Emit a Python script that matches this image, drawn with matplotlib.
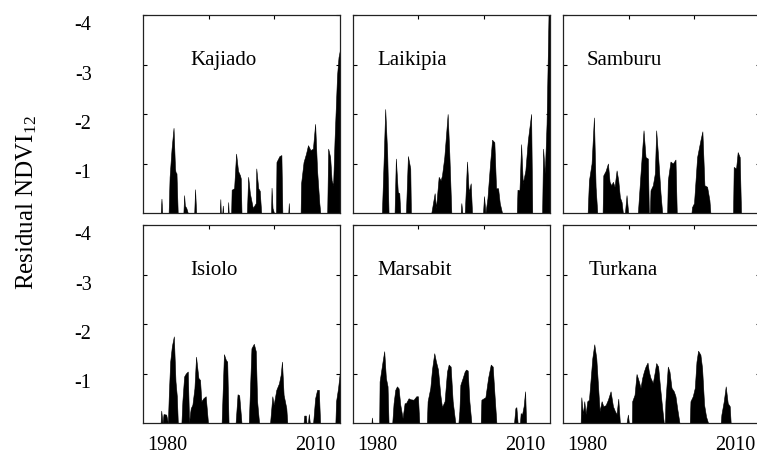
import numpy as np
import matplotlib.pyplot as plt
import matplotlib.transforms as mtransforms

plt.rcParams['font.family'] = 'Liberation Serif'
plt.rcParams['mathtext.fontset'] = 'custom'
plt.rcParams['mathtext.rm'] = 'Liberation Serif'
plt.rcParams['mathtext.it'] = 'Liberation Serif:italic'

names = ["Kajiado", "Laikipia", "Samburu", "Isiolo", "Marsabit", "Turkana"]

# residual NDVI12 (only the negative part)
kajiado_yr = [1978.6, 1978.75, 1978.9, 1980.2, 1980.4, 1980.8, 1981.2, 1981.5, 1981.6, 1981.8, 1982.05,
              1983.2, 1983.35, 1983.5, 1983.8, 1984.1, 1985.4, 1985.57, 1985.8,
              1990.6, 1990.7, 1990.8, 1991.1, 1991.2, 1991.3, 1992.2, 1992.3, 1992.4,
              1992.9, 1993.0, 1993.5, 1993.9, 1994.3, 1994.7, 1994.85, 1995.0,
              1996.1, 1996.35, 1996.7, 1997.3, 1997.9, 1998.0, 1998.4, 1998.7, 1999.0,
              2001.0, 2001.1, 2001.3, 2001.6, 2002.0, 2002.1, 2002.7, 2003.1, 2003.3,
              2004.5, 2004.6, 2004.7, 2007.0, 2007.1, 2007.6, 2008.1, 2008.5, 2009.0, 2009.5,
              2009.95, 2010.35, 2010.8, 2011.0, 2012.4, 2012.6, 2013.0, 2013.3, 2013.6, 2013.9,
              2014.4, 2014.7, 2015.0]
kajiado_val = [0, -0.29, 0, 0, -0.73, -1.3, -1.72, -0.9, -0.83, -0.8, 0,
               0, -0.36, -0.15, -0.1, 0, 0, -0.48, 0,
               0, -0.28, 0, 0, -0.15, 0, 0, -0.22, 0,
               0, -0.47, -0.5, -1.2, -0.85, -0.76, -0.7, 0,
               0, -0.73, -0.4, -0.1, -0.2, -0.9, -0.5, -0.45, 0,
               0, -0.51, -0.1, 0, 0, -1.03, -1.15, -1.17, 0,
               0, -0.2, 0, 0, -0.6, -1.03, -1.2, -1.37, -1.27, -1.3,
               -1.8, -0.86, -0.2, 0, 0, -1.3, -1.13, -0.66, -0.56, -1.5,
               -2.78, -3.15, -3.3]

laikipia_yr = [1980.97, 1981.3, 1981.64, 1982.05, 1982.32, 1983.54, 1983.8, 1984.2, 1984.5, 1984.7,
               1985.85, 1986.25, 1986.73, 1986.86,
               1991.0, 1991.68, 1991.95, 1992.5, 1992.9, 1993.17, 1993.64, 1994.32, 1994.66, 1995.07,
               1996.97, 1997.1, 1997.3, 1997.8, 1998.25, 1998.6, 1999.0, 1999.27,
               2001.5, 2001.7, 2002.0, 2002.4, 2002.9, 2003.34, 2003.8, 2004.15, 2004.56, 2004.9, 2005.37,
               2008.36, 2008.5, 2008.9, 2009.24, 2009.58, 2010.1, 2010.6, 2011.27, 2011.5,
               2013.5, 2013.7, 2014.05, 2014.4, 2014.8, 2015.0]
laikipia_val = [0, -1.0, -2.1, -1.2, 0, 0, -1.1, -0.42, -0.4, 0,
                0, -1.15, -0.9, 0,
                0, -0.4, -0.1, -0.73, -0.66, -0.76, -1.13, -2.0, -1.2, 0,
                0, -0.2, 0, 0, -1.04, -0.42, -0.6, 0,
                0, -0.34, 0, -0.3, -0.96, -1.48, -1.43, -0.5, -0.5, -0.2, 0,
                0, -0.47, -0.46, -1.39, -0.6, -0.86, -1.47, -2.0, 0,
                0, -1.3, -0.8, -1.8, -4.0, -4.0]

samburu_yr = [1980.0, 1980.27, 1980.8, 1981.28, 1981.62, 1981.96,
              1983.04, 1983.18, 1983.65, 1984.12, 1984.46, 1984.8, 1985.14, 1985.47, 1985.88,
              1986.22, 1986.55, 1986.9, 1987.16, 1987.57, 1987.9, 1988.24,
              1990.2, 1990.74, 1991.35, 1991.76, 1992.23, 1992.43,
              1992.64, 1992.77, 1993.24, 1993.65, 1993.92, 1994.32, 1994.8, 1995.14,
              1996.15, 1996.28, 1996.82, 1997.3, 1997.84, 1998.1,
              2001.08, 2001.2, 2001.6, 2002.23, 2002.9, 2003.3, 2003.72, 2004.26, 2004.73, 2004.93,
              2009.53, 2009.66, 2010.14, 2010.47, 2010.88, 2011.15]
samburu_val = [0, -0.66, -1.0, -1.93, -0.53, 0,
               0, -0.76, -0.85, -1.0, -0.63, -0.56, -0.63, -0.53, -0.86,
               -0.66, -0.32, -0.22, 0, 0, -0.36, 0,
               0, -0.8, -1.67, -1.13, -1.1, 0,
               0, -0.46, -0.56, -0.8, -1.67, -1.13, -0.4, 0,
               0, -0.66, -1.04, -1.0, -1.08, 0,
               0, -0.12, -0.2, -1.13, -1.47, -1.65, -0.56, -0.53, -0.26, 0,
               0, -0.93, -0.9, -1.23, -1.13, 0]

isiolo_yr = [1978.57, 1978.7, 1978.97, 1979.17, 1979.71, 1980.05, 1980.25, 1980.52, 1980.86, 1981.26,
             1981.6, 1981.87, 1982.07, 1982.8, 1983.0, 1983.35, 1983.69, 1984.09, 1984.36,
             1984.56, 1984.7, 1985.03, 1985.44, 1985.77, 1986.25, 1986.58, 1986.85, 1987.26, 1987.73, 1988.2,
             1990.96, 1991.43, 1991.84, 1992.1, 1992.37, 1993.8, 1994.2, 1994.53, 1995.0,
             1996.48, 1997.02, 1997.5, 1997.9, 1998.17, 1998.57,
             2000.8, 2001.26, 2001.53, 2002.07, 2002.6, 2002.95, 2003.22, 2003.55, 2004.1, 2004.3,
             2007.6, 2007.73, 2008.06, 2008.2, 2008.5, 2008.67, 2008.87,
             2009.54, 2009.95, 2010.35, 2010.7, 2010.96, 2014.06, 2014.2, 2014.6, 2014.93, 2015.0]
isiolo_val = [0, -0.25, 0, -0.18, -0.17, 0, -0.6, -1.24, -1.55, -1.75,
              -0.84, -0.54, 0, 0, -0.45, -0.94, -1.0, -1.04, 0,
              -0.2, -0.3, -0.37, -0.7, -1.34, -0.91, -0.87, -0.44, -0.5, -0.54, 0,
              0, -1.39, -1.27, -1.24, 0, 0, -0.58, -0.56, 0,
              0, -1.51, -1.6, -1.45, -0.44, 0,
              0, -0.54, -0.37, -0.67, -0.8, -0.97, -1.24, -0.57, -0.3, 0,
              0, -0.15, -0.15, 0, 0, -0.18, 0,
              0, -0.5, -0.67, -0.67, 0, 0, -0.44, -0.7, -0.99, -1.0]

marsabit_yr = [1978.86, 1978.93, 1979.07, 1980.42, 1980.5, 1981.1, 1981.44, 1981.78, 1982.12, 1982.32,
               1983.07, 1983.34, 1983.68, 1984.02, 1984.36, 1984.7, 1985.17, 1985.58, 1985.85,
               1986.39, 1986.73, 1987.4, 1987.95, 1988.29, 1988.56,
               1990.1, 1990.25, 1990.8, 1991.14, 1991.6, 1991.95, 1992.36, 1992.83, 1993.17, 1993.7,
               1994.19, 1994.53, 1994.93, 1995.34, 1995.88,
               1996.5, 1996.7, 1996.9, 1997.37, 1997.78, 1998.05, 1998.39, 1998.73, 1999.14,
               2001.03, 2001.17, 2001.64, 2001.98, 2002.53, 2003.07, 2003.47, 2003.88, 2004.22,
               2007.8, 2008.07, 2008.27, 2008.53, 2009.0, 2009.15, 2009.42, 2009.75, 2010.05, 2010.25]
marsabit_val = [0, -0.11, 0, 0, -0.84, -1.24, -1.45, -0.91, -0.74, 0,
                0, -0.4, -0.67, -0.74, -0.7, -0.37, -0.1, -0.4, -0.4,
                -0.5, -0.48, -0.47, -0.54, -0.54, 0,
                0, -0.44, -0.71, -1.08, -1.41, -1.24, -1.08, -0.57, -0.32, -0.44,
                -1.04, -1.18, -1.14, -0.44, 0,
                0, -0.24, -0.77, -0.91, -1.04, -1.08, -1.06, -0.44, 0,
                0, -0.47, -0.5, -0.52, -0.91, -1.18, -1.14, -0.5, 0,
                0, -0.3, -0.32, 0, 0, -0.2, -0.17, -0.34, -0.64, 0]

turkana_yr = [1978.58, 1978.72, 1979.05, 1979.32, 1979.6, 1979.93, 1980.27, 1980.68, 1980.95, 1981.35,
              1981.76, 1982.1, 1982.43, 1982.84, 1983.18, 1983.65, 1984.12, 1984.66, 1985.14, 1985.54,
              1985.88, 1986.22, 1986.55, 1987.9, 1988.18, 1988.38,
              1988.99, 1989.05, 1989.53, 1989.93, 1990.4, 1990.74, 1991.08, 1991.42, 1991.76, 1992.16,
              1992.43, 1992.77, 1993.24, 1993.65, 1993.92, 1994.32, 1994.66, 1995.14, 1995.47,
              1995.68, 1995.8, 1996.28, 1996.62, 1997.03, 1997.5, 1997.84, 1998.18, 1998.65,
              2000.74, 2000.88, 2001.35, 2001.76, 2002.1, 2002.43, 2002.9, 2003.24, 2003.65, 2004.05, 2004.46,
              2007.03, 2007.16, 2007.64, 2008.04, 2008.45, 2008.85, 2009.05]
turkana_val = [0, -0.52, -0.17, -0.44, -0.18, -0.44, -0.47, -0.97, -1.31, -1.59,
               -1.31, -0.77, -0.24, -0.44, -0.34, -0.36, -0.47, -0.64, -0.34, -0.24,
               -0.18, -0.49, 0, 0, -0.17, 0,
               0, -0.44, -0.57, -0.99, -0.84, -0.71, -0.91, -1.04, -1.14, -1.22,
               -1.04, -0.91, -0.81, -1.04, -1.21, -1.14, -0.77, -0.3, 0,
               0, -0.44, -1.14, -1.04, -0.71, -0.64, -0.54, -0.3, 0,
               0, -0.44, -0.54, -0.71, -1.24, -1.46, -1.38, -1.11, -0.37, -0.13, 0,
               0, -0.17, -0.44, -0.74, -0.4, -0.34, 0]

years = [kajiado_yr, laikipia_yr, samburu_yr, isiolo_yr, marsabit_yr, turkana_yr]
values = [kajiado_val, laikipia_val, samburu_val, isiolo_val, marsabit_val, turkana_val]

name_x = [0.24, 0.127, 0.12, 0.24, 0.127, 0.128]

W, H = 757, 455
fig = plt.figure(figsize=(W / 100, H / 100), dpi=100)

lefts = [143, 352.5, 563]
tops = [15, 225]
aw, ah = 197, 198

# tick labels sit a little below their ticks in the original
shift = mtransforms.ScaledTranslation(0, -8 / 100, fig.dpi_scale_trans)

for i in range(6):
    r, c = divmod(i, 3)
    ax = fig.add_axes([lefts[c] / W, 1 - (tops[r] + ah) / H, aw / W, ah / H])
    ax.fill_between(years[i], values[i], 0, facecolor='black', edgecolor='black', linewidth=0.4)
    ax.set_xlim(1975, 2015)
    ax.set_ylim(0, -4)
    for s in ax.spines.values():
        s.set_linewidth(0.9)
        s.set_color('#222222')

    ax.set_yticks([-1, -2, -3, -4])
    ax.set_yticklabels(['-1', '-2', '-3', '-4'])
    ax.tick_params(axis='y', direction='in', left=True, right=True, length=3,
                   width=0.8, labelsize=14.5, pad=37)
    if c > 0:
        ax.tick_params(axis='y', labelleft=False)
    for lab in ax.get_yticklabels():
        lab.set_transform(lab.get_transform() + shift)

    ax.set_xticks([1980, 2010])
    ax.set_xticks([1975 + 40 / 3, 1975 + 80 / 3], minor=True)
    ax.tick_params(axis='x', which='major', length=0, pad=9, labelsize=14.5)
    ax.tick_params(axis='x', which='minor', direction='in', top=True, bottom=False,
                   length=3, width=0.8)
    if r == 0:
        ax.tick_params(axis='x', labelbottom=False)

    ax.text(name_x[i], 0.77, names[i], transform=ax.transAxes, fontsize=15, va='center')

fig.text(27 / W, 1 - 203 / H, r'Residual NDVI$_{12}$', rotation=90, fontsize=18,
         ha='center', va='center')

fig.savefig('out.png', dpi=100)
